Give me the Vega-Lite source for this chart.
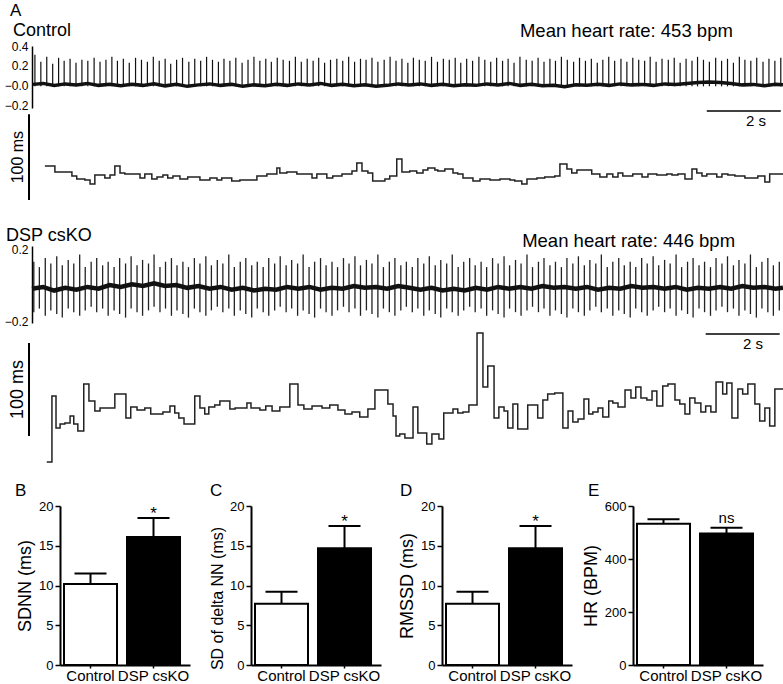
{
  "$schema": "https://vega.github.io/schema/vega-lite/v6.json",
  "padding": {"left": 4, "top": 1, "right": 0, "bottom": 0},
  "autosize": {"type": "pad"},
  "config": {
    "font": "Liberation Sans",
    "view": {"stroke": null},
    "axis": {"grid": false, "domainColor": "#000", "tickColor": "#000", "labelColor": "#000", "titleColor": "#000", "titleFontWeight": "normal", "labelOverlap": false, "labelFlush": false},
    "text": {"color": "#000"}
  },
  "datasets": {
    "ecgControl": [
      {"t":-0.27,"peak":0.31},{"t":-0.11,"peak":0.24},{"t":0.05,"peak":0.29},{"t":0.21,"peak":0.22},{"t":0.37,"peak":0.28},{"t":0.52,"peak":0.25},{"t":0.68,"peak":0.27},{"t":0.84,"peak":0.23},{"t":1.00,"peak":0.26},{"t":1.16,"peak":0.25},
      {"t":1.33,"peak":0.28},{"t":1.49,"peak":0.24},{"t":1.65,"peak":0.26},{"t":1.81,"peak":0.29},{"t":1.96,"peak":0.25},{"t":2.12,"peak":0.27},{"t":2.28,"peak":0.23},{"t":2.45,"peak":0.28},{"t":2.61,"peak":0.26},{"t":2.77,"peak":0.24},
      {"t":2.93,"peak":0.29},{"t":3.09,"peak":0.25},{"t":3.25,"peak":0.27},{"t":3.40,"peak":0.22},{"t":3.56,"peak":0.26},{"t":3.72,"peak":0.28},{"t":3.89,"peak":0.24},{"t":4.05,"peak":0.27},{"t":4.21,"peak":0.25},{"t":4.37,"peak":0.29},
      {"t":4.53,"peak":0.26},{"t":4.69,"peak":0.24},{"t":4.84,"peak":0.27},{"t":5.00,"peak":0.25},{"t":5.16,"peak":0.28},{"t":5.33,"peak":0.23},{"t":5.49,"peak":0.26},{"t":5.65,"peak":0.29},{"t":5.81,"peak":0.25},{"t":5.97,"peak":0.27},
      {"t":6.12,"peak":0.24},{"t":6.28,"peak":0.28},{"t":6.44,"peak":0.26},{"t":6.61,"peak":0.25},{"t":6.77,"peak":0.29},{"t":6.93,"peak":0.24},{"t":7.09,"peak":0.27},{"t":7.25,"peak":0.25},{"t":7.40,"peak":0.28},{"t":7.56,"peak":0.23},
      {"t":7.72,"peak":0.26},{"t":7.89,"peak":0.27},{"t":8.05,"peak":0.25},{"t":8.21,"peak":0.29},{"t":8.37,"peak":0.24},{"t":8.53,"peak":0.27},{"t":8.68,"peak":0.26},{"t":8.84,"peak":0.28},{"t":9.00,"peak":0.24},{"t":9.17,"peak":0.26},
      {"t":9.33,"peak":0.29},{"t":9.49,"peak":0.25},{"t":9.65,"peak":0.27},{"t":9.81,"peak":0.23},{"t":9.96,"peak":0.28},{"t":10.12,"peak":0.26},{"t":10.28,"peak":0.25},{"t":10.45,"peak":0.29},{"t":10.61,"peak":0.24},{"t":10.77,"peak":0.27},
      {"t":10.93,"peak":0.26},{"t":11.09,"peak":0.28},{"t":11.24,"peak":0.23},{"t":11.40,"peak":0.27},{"t":11.56,"peak":0.25},{"t":11.73,"peak":0.29},{"t":11.89,"peak":0.26},{"t":12.05,"peak":0.24},{"t":12.21,"peak":0.28},{"t":12.37,"peak":0.25},
      {"t":12.52,"peak":0.27},{"t":12.68,"peak":0.23},{"t":12.84,"peak":0.29},{"t":13.01,"peak":0.26},{"t":13.17,"peak":0.25},{"t":13.33,"peak":0.28},{"t":13.49,"peak":0.24},{"t":13.65,"peak":0.27},{"t":13.80,"peak":0.25},{"t":13.96,"peak":0.29},
      {"t":14.12,"peak":0.26},{"t":14.29,"peak":0.24},{"t":14.45,"peak":0.28},{"t":14.61,"peak":0.25},{"t":14.77,"peak":0.27},{"t":14.93,"peak":0.23},{"t":15.08,"peak":0.26},{"t":15.24,"peak":0.29},{"t":15.40,"peak":0.25},{"t":15.57,"peak":0.27},
      {"t":15.73,"peak":0.24},{"t":15.89,"peak":0.28},{"t":16.05,"peak":0.26},{"t":16.21,"peak":0.25},{"t":16.36,"peak":0.29},{"t":16.52,"peak":0.24},{"t":16.68,"peak":0.27},{"t":16.85,"peak":0.26},{"t":17.01,"peak":0.28},{"t":17.17,"peak":0.23},
      {"t":17.33,"peak":0.27},{"t":17.49,"peak":0.25},{"t":17.64,"peak":0.29},{"t":17.80,"peak":0.26},{"t":17.96,"peak":0.24},{"t":18.13,"peak":0.28},{"t":18.29,"peak":0.25},{"t":18.45,"peak":0.27},{"t":18.61,"peak":0.23},{"t":18.77,"peak":0.29},
      {"t":18.92,"peak":0.26},{"t":19.08,"peak":0.25},{"t":19.24,"peak":0.28},{"t":19.41,"peak":0.24},{"t":19.57,"peak":0.27},{"t":19.73,"peak":0.25},{"t":19.89,"peak":0.28}
    ],
    "ecgControlBaseline": [
      {"t":-0.33,"mV":0.01},{"t":-0.05,"mV":0.02},{"t":0.25,"mV":0.0},{"t":0.55,"mV":0.015},{"t":0.85,"mV":0.005},{"t":1.15,"mV":0.02},{"t":1.45,"mV":0.0},{"t":1.75,"mV":0.01},{"t":2.05,"mV":-0.005},{"t":2.35,"mV":0.01},
      {"t":2.65,"mV":0.0},{"t":2.95,"mV":0.015},{"t":3.25,"mV":-0.005},{"t":3.55,"mV":0.01},{"t":3.85,"mV":-0.01},{"t":4.15,"mV":0.005},{"t":4.45,"mV":0.015},{"t":4.75,"mV":0.0},{"t":5.05,"mV":0.01},{"t":5.35,"mV":-0.01},
      {"t":5.65,"mV":0.005},{"t":5.95,"mV":-0.005},{"t":6.25,"mV":0.01},{"t":6.55,"mV":0.0},{"t":6.85,"mV":0.015},{"t":7.15,"mV":0.005},{"t":7.45,"mV":0.02},{"t":7.75,"mV":0.0},{"t":8.05,"mV":0.01},{"t":8.35,"mV":-0.005},
      {"t":8.65,"mV":0.005},{"t":8.95,"mV":-0.01},{"t":9.25,"mV":0.0},{"t":9.55,"mV":0.015},{"t":9.85,"mV":0.005},{"t":10.15,"mV":0.015},{"t":10.45,"mV":0.0},{"t":10.75,"mV":0.01},{"t":11.05,"mV":-0.005},{"t":11.35,"mV":0.005},
      {"t":11.65,"mV":0.0},{"t":11.95,"mV":0.015},{"t":12.25,"mV":0.005},{"t":12.55,"mV":0.02},{"t":12.85,"mV":0.0},{"t":13.15,"mV":0.01},{"t":13.45,"mV":-0.005},{"t":13.75,"mV":0.0},{"t":14.05,"mV":-0.015},{"t":14.35,"mV":0.005},
      {"t":14.65,"mV":0.0},{"t":14.95,"mV":0.01},{"t":15.25,"mV":0.0},{"t":15.55,"mV":0.015},{"t":15.85,"mV":0.005},{"t":16.15,"mV":0.01},{"t":16.45,"mV":0.0},{"t":16.75,"mV":0.015},{"t":17.05,"mV":0.01},{"t":17.35,"mV":0.02},
      {"t":17.65,"mV":0.03},{"t":17.95,"mV":0.035},{"t":18.25,"mV":0.03},{"t":18.55,"mV":0.02},{"t":18.85,"mV":0.005},{"t":19.15,"mV":0.01},{"t":19.45,"mV":-0.005},{"t":19.75,"mV":0.01},{"t":19.95,"mV":0.005}
    ],
    "rrControl": [
      {"t":0.00,"rr":139.7},{"t":0.27,"rr":132.7},{"t":0.73,"rr":128.0},{"t":0.86,"rr":124.5},{"t":1.08,"rr":123.3},{"t":1.22,"rr":118.7},{"t":1.35,"rr":129.2},{"t":1.62,"rr":125.7},{"t":1.76,"rr":129.2},{"t":1.89,"rr":139.7},
      {"t":2.03,"rr":131.5},{"t":2.16,"rr":130.3},{"t":2.57,"rr":125.7},{"t":2.70,"rr":130.3},{"t":2.89,"rr":124.5},{"t":3.03,"rr":126.8},{"t":3.19,"rr":129.2},{"t":3.32,"rr":125.7},{"t":3.46,"rr":128.0},{"t":3.65,"rr":124.5},
      {"t":3.86,"rr":126.8},{"t":4.19,"rr":123.3},{"t":4.46,"rr":125.7},{"t":4.65,"rr":123.3},{"t":4.78,"rr":125.7},{"t":5.05,"rr":122.2},{"t":5.27,"rr":123.3},{"t":5.73,"rr":128.0},{"t":6.00,"rr":130.3},{"t":6.27,"rr":137.3},
      {"t":6.35,"rr":131.5},{"t":6.54,"rr":132.7},{"t":6.81,"rr":130.3},{"t":7.22,"rr":125.7},{"t":7.35,"rr":130.3},{"t":7.62,"rr":125.7},{"t":7.78,"rr":128.0},{"t":8.03,"rr":130.3},{"t":8.30,"rr":133.8},{"t":8.43,"rr":143.2},
      {"t":8.57,"rr":133.8},{"t":8.73,"rr":131.5},{"t":8.86,"rr":122.2},{"t":9.19,"rr":124.5},{"t":9.32,"rr":128.0},{"t":9.51,"rr":147.8},{"t":9.65,"rr":132.7},{"t":9.86,"rr":133.8},{"t":10.05,"rr":131.5},{"t":10.22,"rr":135.0},
      {"t":10.35,"rr":137.3},{"t":10.54,"rr":135.0},{"t":10.62,"rr":133.8},{"t":10.81,"rr":136.1},{"t":11.03,"rr":131.5},{"t":11.16,"rr":130.3},{"t":11.30,"rr":125.7},{"t":11.57,"rr":122.2},{"t":11.76,"rr":124.5},{"t":12.03,"rr":123.3},
      {"t":12.30,"rr":124.5},{"t":12.57,"rr":123.3},{"t":12.70,"rr":122.2},{"t":12.89,"rr":118.7},{"t":13.03,"rr":124.5},{"t":13.30,"rr":125.7},{"t":13.51,"rr":126.8},{"t":13.78,"rr":128.0},{"t":13.92,"rr":142.0},{"t":14.11,"rr":136.2},
      {"t":14.24,"rr":131.5},{"t":14.38,"rr":135.0},{"t":14.78,"rr":130.3},{"t":15.00,"rr":126.8},{"t":15.19,"rr":130.3},{"t":15.35,"rr":126.8},{"t":15.49,"rr":131.5},{"t":15.62,"rr":128.0},{"t":15.89,"rr":130.3},{"t":16.14,"rr":126.8},
      {"t":16.30,"rr":130.3},{"t":16.54,"rr":129.2},{"t":16.81,"rr":130.3},{"t":16.95,"rr":129.2},{"t":17.11,"rr":130.3},{"t":17.30,"rr":124.5},{"t":17.49,"rr":136.2},{"t":17.62,"rr":131.5},{"t":17.76,"rr":128.0},{"t":17.89,"rr":130.3},
      {"t":18.16,"rr":126.8},{"t":18.30,"rr":130.3},{"t":18.46,"rr":129.2},{"t":18.65,"rr":128.0},{"t":18.92,"rr":125.7},{"t":19.27,"rr":128.0},{"t":19.46,"rr":121.0},{"t":19.59,"rr":130.3},{"t":19.95,"rr":130.3}
    ],
    "ecgDsp": [
      {"t":-0.30,"peak":0.13,"trough":-0.15},{"t":-0.15,"peak":0.10,"trough":-0.13},{"t":0.01,"peak":0.15,"trough":-0.17},{"t":0.16,"peak":0.12,"trough":-0.14},{"t":0.32,"peak":0.16,"trough":-0.16},{"t":0.47,"peak":0.11,"trough":-0.18},{"t":0.63,"peak":0.14,"trough":-0.13},{"t":0.78,"peak":0.12,"trough":-0.15},{"t":0.94,"peak":0.17,"trough":-0.17},{"t":1.09,"peak":0.10,"trough":-0.14},
      {"t":1.25,"peak":0.13,"trough":-0.12},{"t":1.40,"peak":0.15,"trough":-0.15},{"t":1.56,"peak":0.11,"trough":-0.13},{"t":1.71,"peak":0.13,"trough":-0.17},{"t":1.87,"peak":0.10,"trough":-0.14},{"t":2.02,"peak":0.15,"trough":-0.16},{"t":2.18,"peak":0.12,"trough":-0.18},{"t":2.33,"peak":0.16,"trough":-0.13},{"t":2.49,"peak":0.11,"trough":-0.15},{"t":2.64,"peak":0.14,"trough":-0.17},
      {"t":2.80,"peak":0.12,"trough":-0.14},{"t":2.95,"peak":0.17,"trough":-0.12},{"t":3.11,"peak":0.10,"trough":-0.15},{"t":3.26,"peak":0.13,"trough":-0.13},{"t":3.42,"peak":0.15,"trough":-0.17},{"t":3.57,"peak":0.11,"trough":-0.14},{"t":3.73,"peak":0.13,"trough":-0.16},{"t":3.88,"peak":0.10,"trough":-0.18},{"t":4.04,"peak":0.15,"trough":-0.13},{"t":4.19,"peak":0.12,"trough":-0.15},
      {"t":4.35,"peak":0.16,"trough":-0.17},{"t":4.50,"peak":0.11,"trough":-0.14},{"t":4.66,"peak":0.14,"trough":-0.12},{"t":4.81,"peak":0.12,"trough":-0.15},{"t":4.97,"peak":0.17,"trough":-0.13},{"t":5.12,"peak":0.10,"trough":-0.17},{"t":5.28,"peak":0.13,"trough":-0.14},{"t":5.43,"peak":0.15,"trough":-0.16},{"t":5.59,"peak":0.11,"trough":-0.18},{"t":5.74,"peak":0.13,"trough":-0.13},
      {"t":5.90,"peak":0.10,"trough":-0.15},{"t":6.05,"peak":0.15,"trough":-0.17},{"t":6.21,"peak":0.12,"trough":-0.14},{"t":6.36,"peak":0.16,"trough":-0.12},{"t":6.52,"peak":0.11,"trough":-0.15},{"t":6.67,"peak":0.14,"trough":-0.13},{"t":6.83,"peak":0.12,"trough":-0.17},{"t":6.98,"peak":0.17,"trough":-0.14},{"t":7.14,"peak":0.10,"trough":-0.16},{"t":7.29,"peak":0.13,"trough":-0.18},
      {"t":7.45,"peak":0.15,"trough":-0.13},{"t":7.60,"peak":0.11,"trough":-0.15},{"t":7.76,"peak":0.13,"trough":-0.17},{"t":7.91,"peak":0.10,"trough":-0.14},{"t":8.07,"peak":0.15,"trough":-0.12},{"t":8.22,"peak":0.12,"trough":-0.15},{"t":8.38,"peak":0.16,"trough":-0.13},{"t":8.53,"peak":0.11,"trough":-0.17},{"t":8.69,"peak":0.14,"trough":-0.14},{"t":8.84,"peak":0.12,"trough":-0.16},
      {"t":9.00,"peak":0.17,"trough":-0.18},{"t":9.15,"peak":0.10,"trough":-0.13},{"t":9.31,"peak":0.13,"trough":-0.15},{"t":9.46,"peak":0.15,"trough":-0.17},{"t":9.62,"peak":0.11,"trough":-0.14},{"t":9.77,"peak":0.13,"trough":-0.12},{"t":9.93,"peak":0.10,"trough":-0.15},{"t":10.08,"peak":0.15,"trough":-0.13},{"t":10.24,"peak":0.12,"trough":-0.17},{"t":10.39,"peak":0.16,"trough":-0.14},
      {"t":10.55,"peak":0.11,"trough":-0.16},{"t":10.70,"peak":0.14,"trough":-0.18},{"t":10.86,"peak":0.12,"trough":-0.13},{"t":11.01,"peak":0.17,"trough":-0.15},{"t":11.17,"peak":0.10,"trough":-0.17},{"t":11.32,"peak":0.13,"trough":-0.14},{"t":11.48,"peak":0.15,"trough":-0.12},{"t":11.63,"peak":0.11,"trough":-0.15},{"t":11.79,"peak":0.13,"trough":-0.13},{"t":11.94,"peak":0.10,"trough":-0.17},
      {"t":12.10,"peak":0.15,"trough":-0.14},{"t":12.25,"peak":0.12,"trough":-0.16},{"t":12.41,"peak":0.16,"trough":-0.18},{"t":12.56,"peak":0.11,"trough":-0.13},{"t":12.72,"peak":0.14,"trough":-0.15},{"t":12.87,"peak":0.12,"trough":-0.17},{"t":13.03,"peak":0.17,"trough":-0.14},{"t":13.18,"peak":0.10,"trough":-0.12},{"t":13.34,"peak":0.13,"trough":-0.15},{"t":13.49,"peak":0.15,"trough":-0.13},
      {"t":13.65,"peak":0.11,"trough":-0.17},{"t":13.80,"peak":0.13,"trough":-0.14},{"t":13.96,"peak":0.10,"trough":-0.16},{"t":14.11,"peak":0.15,"trough":-0.18},{"t":14.27,"peak":0.12,"trough":-0.13},{"t":14.42,"peak":0.16,"trough":-0.15},{"t":14.58,"peak":0.11,"trough":-0.17},{"t":14.73,"peak":0.14,"trough":-0.14},{"t":14.89,"peak":0.12,"trough":-0.12},{"t":15.04,"peak":0.17,"trough":-0.15},
      {"t":15.20,"peak":0.10,"trough":-0.13},{"t":15.35,"peak":0.13,"trough":-0.17},{"t":15.51,"peak":0.15,"trough":-0.14},{"t":15.66,"peak":0.11,"trough":-0.16},{"t":15.82,"peak":0.13,"trough":-0.18},{"t":15.97,"peak":0.10,"trough":-0.13},{"t":16.13,"peak":0.15,"trough":-0.15},{"t":16.28,"peak":0.12,"trough":-0.17},{"t":16.44,"peak":0.16,"trough":-0.14},{"t":16.59,"peak":0.11,"trough":-0.12},
      {"t":16.75,"peak":0.14,"trough":-0.15},{"t":16.90,"peak":0.12,"trough":-0.13},{"t":17.06,"peak":0.17,"trough":-0.17},{"t":17.21,"peak":0.10,"trough":-0.14},{"t":17.37,"peak":0.13,"trough":-0.16},{"t":17.52,"peak":0.15,"trough":-0.18},{"t":17.68,"peak":0.11,"trough":-0.13},{"t":17.83,"peak":0.13,"trough":-0.15},{"t":17.99,"peak":0.10,"trough":-0.17},{"t":18.14,"peak":0.15,"trough":-0.14},
      {"t":18.30,"peak":0.12,"trough":-0.12},{"t":18.45,"peak":0.16,"trough":-0.15},{"t":18.61,"peak":0.11,"trough":-0.13},{"t":18.76,"peak":0.14,"trough":-0.17},{"t":18.92,"peak":0.12,"trough":-0.14},{"t":19.07,"peak":0.17,"trough":-0.16},{"t":19.23,"peak":0.10,"trough":-0.18},{"t":19.38,"peak":0.13,"trough":-0.13},{"t":19.54,"peak":0.15,"trough":-0.15},{"t":19.69,"peak":0.11,"trough":-0.17},
      {"t":19.85,"peak":0.13,"trough":-0.14}
    ],
    "ecgDspBaseline": [
      {"t":-0.35,"mV":-0.02},{"t":-0.05,"mV":-0.01},{"t":0.25,"mV":-0.03},{"t":0.55,"mV":-0.015},{"t":0.85,"mV":-0.025},{"t":1.15,"mV":-0.01},{"t":1.45,"mV":-0.02},{"t":1.75,"mV":0.0},{"t":2.05,"mV":-0.01},{"t":2.35,"mV":0.005},
      {"t":2.65,"mV":-0.005},{"t":2.95,"mV":0.01},{"t":3.25,"mV":-0.005},{"t":3.55,"mV":0.0},{"t":3.85,"mV":-0.015},{"t":4.15,"mV":-0.005},{"t":4.45,"mV":-0.02},{"t":4.75,"mV":-0.01},{"t":5.05,"mV":-0.025},{"t":5.35,"mV":-0.015},
      {"t":5.65,"mV":-0.03},{"t":5.95,"mV":-0.02},{"t":6.25,"mV":-0.025},{"t":6.55,"mV":-0.01},{"t":6.85,"mV":-0.02},{"t":7.15,"mV":-0.01},{"t":7.45,"mV":-0.025},{"t":7.75,"mV":-0.015},{"t":8.05,"mV":-0.02},{"t":8.35,"mV":-0.005},
      {"t":8.65,"mV":-0.015},{"t":8.95,"mV":-0.01},{"t":9.25,"mV":-0.02},{"t":9.55,"mV":-0.005},{"t":9.85,"mV":-0.015},{"t":10.15,"mV":-0.025},{"t":10.45,"mV":-0.015},{"t":10.75,"mV":-0.03},{"t":11.05,"mV":-0.02},{"t":11.35,"mV":-0.03},
      {"t":11.65,"mV":-0.015},{"t":11.95,"mV":-0.025},{"t":12.25,"mV":-0.01},{"t":12.55,"mV":-0.02},{"t":12.85,"mV":-0.01},{"t":13.15,"mV":-0.02},{"t":13.45,"mV":-0.005},{"t":13.75,"mV":-0.015},{"t":14.05,"mV":-0.01},{"t":14.35,"mV":-0.02},
      {"t":14.65,"mV":-0.01},{"t":14.95,"mV":-0.025},{"t":15.25,"mV":-0.015},{"t":15.55,"mV":-0.02},{"t":15.85,"mV":-0.005},{"t":16.15,"mV":-0.015},{"t":16.45,"mV":-0.01},{"t":16.75,"mV":-0.02},{"t":17.05,"mV":-0.01},{"t":17.35,"mV":-0.025},
      {"t":17.65,"mV":-0.015},{"t":17.95,"mV":-0.02},{"t":18.25,"mV":-0.01},{"t":18.55,"mV":-0.02},{"t":18.85,"mV":-0.005},{"t":19.15,"mV":-0.015},{"t":19.45,"mV":-0.01},{"t":19.75,"mV":-0.02},{"t":19.95,"mV":-0.015}
    ],
    "rrDsp": [
      {"t":0.05,"rr":72.1},{"t":0.19,"rr":143.0},{"t":0.30,"rr":108.7},{"t":0.41,"rr":113.0},{"t":0.54,"rr":114.0},{"t":0.68,"rr":121.6},{"t":0.78,"rr":113.0},{"t":0.89,"rr":105.4},{"t":1.05,"rr":155.9},{"t":1.19,"rr":137.7},
      {"t":1.35,"rr":126.9},{"t":1.49,"rr":130.1},{"t":1.89,"rr":145.2},{"t":2.19,"rr":119.4},{"t":2.32,"rr":131.2},{"t":2.49,"rr":128.0},{"t":2.70,"rr":130.1},{"t":2.86,"rr":123.7},{"t":3.19,"rr":125.8},{"t":3.38,"rr":132.3},
      {"t":3.51,"rr":124.8},{"t":3.62,"rr":119.4},{"t":3.76,"rr":113.0},{"t":4.05,"rr":143.0},{"t":4.19,"rr":130.1},{"t":4.32,"rr":123.7},{"t":4.43,"rr":131.2},{"t":4.59,"rr":133.4},{"t":4.73,"rr":137.7},{"t":5.00,"rr":129.1},
      {"t":5.14,"rr":130.1},{"t":5.46,"rr":135.5},{"t":5.57,"rr":130.1},{"t":5.81,"rr":128.0},{"t":5.97,"rr":132.3},{"t":6.14,"rr":126.9},{"t":6.35,"rr":131.2},{"t":6.62,"rr":155.9},{"t":6.84,"rr":133.4},{"t":7.00,"rr":129.1},
      {"t":7.22,"rr":132.3},{"t":7.49,"rr":130.1},{"t":7.70,"rr":133.4},{"t":7.92,"rr":128.0},{"t":8.11,"rr":123.7},{"t":8.30,"rr":125.8},{"t":8.51,"rr":120.5},{"t":8.73,"rr":129.1},{"t":8.92,"rr":149.5},{"t":9.27,"rr":134.4},
      {"t":9.41,"rr":121.6},{"t":9.49,"rr":100.1},{"t":9.59,"rr":102.3},{"t":9.73,"rr":97.9},{"t":9.95,"rr":131.2},{"t":10.08,"rr":103.3},{"t":10.32,"rr":91.5},{"t":10.46,"rr":102.3},{"t":10.65,"rr":96.8},{"t":10.78,"rr":124.8},
      {"t":11.03,"rr":129.1},{"t":11.16,"rr":124.8},{"t":11.30,"rr":125.8},{"t":11.46,"rr":133.4},{"t":11.68,"rr":210.7},{"t":11.84,"rr":152.7},{"t":11.97,"rr":175.3},{"t":12.14,"rr":119.4},{"t":12.27,"rr":131.2},{"t":12.41,"rr":126.9},
      {"t":12.51,"rr":108.7},{"t":12.65,"rr":134.4},{"t":12.78,"rr":107.6},{"t":13.05,"rr":133.4},{"t":13.32,"rr":119.4},{"t":13.46,"rr":138.7},{"t":13.59,"rr":145.2},{"t":13.78,"rr":146.3},{"t":14.00,"rr":108.7},{"t":14.14,"rr":126.9},
      {"t":14.27,"rr":115.1},{"t":14.41,"rr":118.3},{"t":14.57,"rr":139.8},{"t":14.70,"rr":123.7},{"t":14.81,"rr":125.8},{"t":14.95,"rr":130.1},{"t":15.08,"rr":120.5},{"t":15.24,"rr":137.7},{"t":15.35,"rr":135.5},{"t":15.49,"rr":131.2},
      {"t":15.68,"rr":149.5},{"t":15.84,"rr":140.9},{"t":15.97,"rr":152.7},{"t":16.11,"rr":140.9},{"t":16.27,"rr":138.7},{"t":16.41,"rr":148.4},{"t":16.54,"rr":132.3},{"t":16.70,"rr":153.8},{"t":16.84,"rr":155.9},{"t":17.03,"rr":138.7},
      {"t":17.16,"rr":134.4},{"t":17.30,"rr":123.7},{"t":17.43,"rr":140.9},{"t":17.57,"rr":135.5},{"t":17.73,"rr":125.8},{"t":17.86,"rr":132.3},{"t":18.00,"rr":125.8},{"t":18.14,"rr":158.0},{"t":18.32,"rr":145.2},{"t":18.43,"rr":157.0},
      {"t":18.57,"rr":119.4},{"t":18.73,"rr":150.5},{"t":18.86,"rr":145.2},{"t":19.00,"rr":155.9},{"t":19.19,"rr":134.4},{"t":19.32,"rr":116.2},{"t":19.46,"rr":130.1},{"t":19.59,"rr":110.8},{"t":19.73,"rr":150.5},{"t":19.95,"rr":150.5}
    ],
    "hrv": [
      {"metric":"SDNN","group":"Control","mean":10.2,"upper":11.5,"sig":""},
      {"metric":"SDNN","group":"DSP csKO","mean":16.1,"upper":18.5,"sig":"*"},
      {"metric":"SDdNN","group":"Control","mean":7.7,"upper":9.2,"sig":""},
      {"metric":"SDdNN","group":"DSP csKO","mean":14.7,"upper":17.5,"sig":"*"},
      {"metric":"RMSSD","group":"Control","mean":7.7,"upper":9.2,"sig":""},
      {"metric":"RMSSD","group":"DSP csKO","mean":14.7,"upper":17.5,"sig":"*"},
      {"metric":"HR","group":"Control","mean":533,"upper":550,"sig":""},
      {"metric":"HR","group":"DSP csKO","mean":496,"upper":518,"sig":"ns"}
    ]
  },
  "vconcat": [
    {
      "width": 754, "height": 62,
      "layer": [
        {"data": {"name": "ecgControl"}, "mark": {"type": "rule", "color": "#111", "strokeWidth": 1.2},
         "encoding": {"x": {"field": "t", "type": "quantitative", "scale": {"domain": [-0.43, 19.95], "nice": false, "zero": false}, "axis": null},
                      "y": {"field": "peak", "type": "quantitative", "scale": {"domain": [-0.23, 0.4], "nice": false, "zero": false},
                            "axis": {"values": [-0.2, 0, 0.2, 0.4], "labelExpr": "datum.value == 0 ? '−0.0' : format(datum.value, '.1f')", "offset": -3, "ticks": false, "labelPadding": 4, "labelFontSize": 12, "domainWidth": 1.5, "title": null}},
                      "y2": {"datum": -0.01}}},
        {"data": {"name": "ecgControlBaseline"}, "mark": {"type": "line", "color": "#111", "strokeWidth": 3.5},
         "encoding": {"x": {"field": "t", "type": "quantitative", "axis": null},
                      "y": {"field": "mV", "type": "quantitative", "axis": {"values": [-0.2, 0, 0.2, 0.4], "labelExpr": "datum.value == 0 ? '−0.0' : format(datum.value, '.1f')", "offset": -3, "ticks": false, "labelPadding": 4, "labelFontSize": 12, "domainWidth": 1.5, "title": null}}}},
        {"data": {"values": [{}]}, "mark": {"type": "text", "text": "A", "fontSize": 17, "align": "left", "baseline": "alphabetic"},
         "encoding": {"x": {"datum": -0.944, "axis": null},
                      "y": {"datum": 0.705, "axis": {"values": [-0.2, 0, 0.2, 0.4], "labelExpr": "datum.value == 0 ? '−0.0' : format(datum.value, '.1f')", "offset": -3, "ticks": false, "labelPadding": 4, "labelFontSize": 12, "domainWidth": 1.5, "title": null}}}},
        {"data": {"values": [{}]}, "mark": {"type": "text", "text": "Control", "fontSize": 18, "align": "left", "baseline": "alphabetic"},
         "encoding": {"x": {"datum": -0.862, "axis": null},
                      "y": {"datum": 0.5, "axis": {"values": [-0.2, 0, 0.2, 0.4], "labelExpr": "datum.value == 0 ? '−0.0' : format(datum.value, '.1f')", "offset": -3, "ticks": false, "labelPadding": 4, "labelFontSize": 12, "domainWidth": 1.5, "title": null}}}},
        {"data": {"values": [{}]}, "mark": {"type": "text", "text": "Mean heart rate: 453 bpm", "fontSize": 18.5, "align": "left", "baseline": "alphabetic"},
         "encoding": {"x": {"datum": 12.84, "axis": null},
                      "y": {"datum": 0.49, "axis": {"values": [-0.2, 0, 0.2, 0.4], "labelExpr": "datum.value == 0 ? '−0.0' : format(datum.value, '.1f')", "offset": -3, "ticks": false, "labelPadding": 4, "labelFontSize": 12, "domainWidth": 1.5, "title": null}}}}
      ]
    },
    {
      "width": 754, "height": 134,
      "layer": [
        {"data": {"name": "rrControl"}, "mark": {"type": "line", "interpolate": "step-after", "color": "#222", "strokeWidth": 1.5},
         "encoding": {"x": {"field": "t", "type": "quantitative", "scale": {"domain": [-0.43, 19.95], "nice": false, "zero": false}, "axis": null},
                      "y": {"field": "rr", "type": "quantitative", "scale": {"domain": [48.6, 205], "nice": false, "zero": false}, "axis": null}}},
        {"data": {"values": [{}]}, "mark": {"type": "rule", "color": "#000", "strokeWidth": 2},
         "encoding": {"x": {"datum": -0.43, "axis": null}, "y": {"datum": 100, "axis": null}, "y2": {"datum": 200}}},
        {"data": {"values": [{}]}, "mark": {"type": "text", "text": "100 ms", "angle": 270, "fontSize": 16, "align": "center", "baseline": "middle"},
         "encoding": {"x": {"datum": -0.727, "axis": null}, "y": {"datum": 150, "axis": null}}},
        {"data": {"values": [{}]}, "mark": {"type": "rule", "color": "#000", "strokeWidth": 1.5},
         "encoding": {"x": {"datum": 17.89, "axis": null}, "x2": {"datum": 19.89}, "y": {"datum": 203.8, "axis": null}}},
        {"data": {"values": [{}]}, "mark": {"type": "text", "text": "2 s", "fontSize": 15, "align": "center", "baseline": "middle"},
         "encoding": {"x": {"datum": 19.22, "axis": null}, "y": {"datum": 192.2, "axis": null}}}
      ]
    },
    {
      "width": 754, "height": 77,
      "layer": [
        {"data": {"name": "ecgDsp"}, "mark": {"type": "rule", "color": "#222", "strokeWidth": 1.3},
         "encoding": {"x": {"field": "t", "type": "quantitative", "scale": {"domain": [-0.43, 19.95], "nice": false, "zero": false}, "axis": null},
                      "y": {"field": "peak", "type": "quantitative", "scale": {"domain": [-0.21, 0.217], "nice": false, "zero": false},
                            "axis": {"values": [-0.2, 0.2], "labelExpr": "format(datum.value, '.1f')", "offset": -3, "ticks": false, "labelPadding": 4, "labelFontSize": 12, "domainWidth": 1.5, "title": null}},
                      "y2": {"field": "trough"}}},
        {"data": {"name": "ecgDspBaseline"}, "mark": {"type": "line", "color": "#111", "strokeWidth": 4.5},
         "encoding": {"x": {"field": "t", "type": "quantitative", "axis": null},
                      "y": {"field": "mV", "type": "quantitative", "axis": {"values": [-0.2, 0.2], "labelExpr": "format(datum.value, '.1f')", "offset": -3, "ticks": false, "labelPadding": 4, "labelFontSize": 12, "domainWidth": 1.5, "title": null}}}},
        {"data": {"values": [{}]}, "mark": {"type": "text", "text": "DSP csKO", "fontSize": 18, "align": "left", "baseline": "alphabetic"},
         "encoding": {"x": {"datum": -1.052, "axis": null},
                      "y": {"datum": 0.245, "axis": {"values": [-0.2, 0.2], "labelExpr": "format(datum.value, '.1f')", "offset": -3, "ticks": false, "labelPadding": 4, "labelFontSize": 12, "domainWidth": 1.5, "title": null}}}},
        {"data": {"values": [{}]}, "mark": {"type": "text", "text": "Mean heart rate: 446 bpm", "fontSize": 18.5, "align": "left", "baseline": "alphabetic"},
         "encoding": {"x": {"datum": 12.9, "axis": null},
                      "y": {"datum": 0.212, "axis": {"values": [-0.2, 0.2], "labelExpr": "format(datum.value, '.1f')", "offset": -3, "ticks": false, "labelPadding": 4, "labelFontSize": 12, "domainWidth": 1.5, "title": null}}}}
      ]
    },
    {
      "width": 754, "height": 179,
      "layer": [
        {"data": {"name": "rrDsp"}, "mark": {"type": "line", "interpolate": "step-after", "color": "#222", "strokeWidth": 1.5},
         "encoding": {"x": {"field": "t", "type": "quantitative", "scale": {"domain": [-0.43, 19.95], "nice": false, "zero": false}, "axis": null},
                      "y": {"field": "rr", "type": "quantitative", "scale": {"domain": [27.0, 219.3], "nice": false, "zero": false}, "axis": null}}},
        {"data": {"values": [{}]}, "mark": {"type": "rule", "color": "#000", "strokeWidth": 2},
         "encoding": {"x": {"datum": -0.43, "axis": null}, "y": {"datum": 100, "axis": null}, "y2": {"datum": 200}}},
        {"data": {"values": [{}]}, "mark": {"type": "text", "text": "100 ms", "angle": 270, "fontSize": 18, "align": "center", "baseline": "middle"},
         "encoding": {"x": {"datum": -0.727, "axis": null}, "y": {"datum": 150, "axis": null}}},
        {"data": {"values": [{}]}, "mark": {"type": "rule", "color": "#000", "strokeWidth": 1.5},
         "encoding": {"x": {"datum": 17.86, "axis": null}, "x2": {"datum": 19.86}, "y": {"datum": 209.6, "axis": null}}},
        {"data": {"values": [{}]}, "mark": {"type": "text", "text": "2 s", "fontSize": 15, "align": "center", "baseline": "middle"},
         "encoding": {"x": {"datum": 19.14, "axis": null}, "y": {"datum": 198.9, "axis": null}}}
      ]
    },
    {
      "hconcat": [
        {"width": 1, "height": 1, "data": {"values": []}, "mark": "point"},
        {
          "hconcat": [
            {
              "width": 130, "height": 159,
              "data": {"name": "hrv"},
              "transform": [{"filter": "datum.metric == 'SDNN'"}],
              "title": {"text": "B", "anchor": "start", "frame": "group", "dx": -45, "offset": 0, "fontSize": 17, "fontWeight": "normal"},
              "encoding": {"x": {"field": "group", "type": "nominal", "sort": ["Control", "DSP csKO"], "scale": {"paddingInner": 0.1587, "paddingOuter": 0.111, "align": 0.286},
                                 "axis": {"title": null, "labelAngle": 0, "labelFontSize": 15, "tickSize": 3, "tickWidth": 1.5, "domainWidth": 2, "labelPadding": 0}}},
              "layer": [
                {"mark": {"type": "rule", "color": "#000", "strokeWidth": 2},
                 "encoding": {"y": {"field": "mean", "type": "quantitative", "scale": {"domain": [0, 20], "nice": false},
                                    "axis": {"values": [0, 5, 10, 15, 20], "title": "SDNN (ms)", "titleFontSize": 18, "titlePadding": 4, "labelFontSize": 13, "labelPadding": 2, "tickSize": 5, "tickWidth": 1.5, "domainWidth": 2}},
                              "y2": {"field": "upper"}}},
                {"mark": {"type": "tick", "orient": "horizontal", "size": 32, "thickness": 2, "color": "#000", "opacity": 1},
                 "encoding": {"y": {"field": "upper", "type": "quantitative", "axis": {"values": [0, 5, 10, 15, 20], "title": "SDNN (ms)", "titleFontSize": 18, "titlePadding": 4, "labelFontSize": 13, "labelPadding": 2, "tickSize": 5, "tickWidth": 1.5, "domainWidth": 2}}}},
                {"mark": {"type": "bar", "stroke": "#000", "strokeWidth": 2, "opacity": 1},
                 "encoding": {"y": {"field": "mean", "type": "quantitative", "stack": null, "axis": {"values": [0, 5, 10, 15, 20], "title": "SDNN (ms)", "titleFontSize": 18, "titlePadding": 4, "labelFontSize": 13, "labelPadding": 2, "tickSize": 5, "tickWidth": 1.5, "domainWidth": 2}},
                              "fill": {"field": "group", "type": "nominal", "scale": {"domain": ["Control", "DSP csKO"], "range": ["#ffffff", "#000000"]}, "legend": null}}},
                {"mark": {"type": "text", "fontSize": 17, "baseline": "alphabetic", "dy": 1},
                 "encoding": {"y": {"field": "upper", "type": "quantitative", "axis": {"values": [0, 5, 10, 15, 20], "title": "SDNN (ms)", "titleFontSize": 18, "titlePadding": 4, "labelFontSize": 13, "labelPadding": 2, "tickSize": 5, "tickWidth": 1.5, "domainWidth": 2}}, "text": {"field": "sig"}}}
              ]
            },
            {
              "width": 130, "height": 159,
              "data": {"name": "hrv"},
              "transform": [{"filter": "datum.metric == 'SDdNN'"}],
              "title": {"text": "C", "anchor": "start", "frame": "group", "dx": -41, "offset": 0, "fontSize": 17, "fontWeight": "normal"},
              "encoding": {"x": {"field": "group", "type": "nominal", "sort": ["Control", "DSP csKO"], "scale": {"paddingInner": 0.1587, "paddingOuter": 0.111, "align": 0.286},
                                 "axis": {"title": null, "labelAngle": 0, "labelFontSize": 15, "tickSize": 3, "tickWidth": 1.5, "domainWidth": 2, "labelPadding": 0}}},
              "layer": [
                {"mark": {"type": "rule", "color": "#000", "strokeWidth": 2},
                 "encoding": {"y": {"field": "mean", "type": "quantitative", "scale": {"domain": [0, 20], "nice": false},
                                    "axis": {"values": [0, 5, 10, 15, 20], "title": "SD of delta NN (ms)", "titleFontSize": 16, "titlePadding": 4, "titleY": 92, "labelFontSize": 13, "labelPadding": 2, "tickSize": 5, "tickWidth": 1.5, "domainWidth": 2}},
                              "y2": {"field": "upper"}}},
                {"mark": {"type": "tick", "orient": "horizontal", "size": 32, "thickness": 2, "color": "#000", "opacity": 1},
                 "encoding": {"y": {"field": "upper", "type": "quantitative", "axis": {"values": [0, 5, 10, 15, 20], "title": "SD of delta NN (ms)", "titleFontSize": 16, "titlePadding": 4, "titleY": 92, "labelFontSize": 13, "labelPadding": 2, "tickSize": 5, "tickWidth": 1.5, "domainWidth": 2}}}},
                {"mark": {"type": "bar", "stroke": "#000", "strokeWidth": 2, "opacity": 1},
                 "encoding": {"y": {"field": "mean", "type": "quantitative", "stack": null, "axis": {"values": [0, 5, 10, 15, 20], "title": "SD of delta NN (ms)", "titleFontSize": 16, "titlePadding": 4, "titleY": 92, "labelFontSize": 13, "labelPadding": 2, "tickSize": 5, "tickWidth": 1.5, "domainWidth": 2}},
                              "fill": {"field": "group", "type": "nominal", "scale": {"domain": ["Control", "DSP csKO"], "range": ["#ffffff", "#000000"]}, "legend": null}}},
                {"mark": {"type": "text", "fontSize": 17, "baseline": "alphabetic", "dy": 1},
                 "encoding": {"y": {"field": "upper", "type": "quantitative", "axis": {"values": [0, 5, 10, 15, 20], "title": "SD of delta NN (ms)", "titleFontSize": 16, "titlePadding": 4, "titleY": 92, "labelFontSize": 13, "labelPadding": 2, "tickSize": 5, "tickWidth": 1.5, "domainWidth": 2}}, "text": {"field": "sig"}}}
              ]
            },
            {
              "width": 130, "height": 159,
              "data": {"name": "hrv"},
              "transform": [{"filter": "datum.metric == 'RMSSD'"}],
              "title": {"text": "D", "anchor": "start", "frame": "group", "dx": -42, "offset": 0, "fontSize": 17, "fontWeight": "normal"},
              "encoding": {"x": {"field": "group", "type": "nominal", "sort": ["Control", "DSP csKO"], "scale": {"paddingInner": 0.1587, "paddingOuter": 0.111, "align": 0.286},
                                 "axis": {"title": null, "labelAngle": 0, "labelFontSize": 15, "tickSize": 3, "tickWidth": 1.5, "domainWidth": 2, "labelPadding": 0}}},
              "layer": [
                {"mark": {"type": "rule", "color": "#000", "strokeWidth": 2},
                 "encoding": {"y": {"field": "mean", "type": "quantitative", "scale": {"domain": [0, 20], "nice": false},
                                    "axis": {"values": [0, 5, 10, 15, 20], "title": "RMSSD (ms)", "titleFontSize": 18, "titlePadding": 4, "labelFontSize": 13, "labelPadding": 2, "tickSize": 5, "tickWidth": 1.5, "domainWidth": 2}},
                              "y2": {"field": "upper"}}},
                {"mark": {"type": "tick", "orient": "horizontal", "size": 32, "thickness": 2, "color": "#000", "opacity": 1},
                 "encoding": {"y": {"field": "upper", "type": "quantitative", "axis": {"values": [0, 5, 10, 15, 20], "title": "RMSSD (ms)", "titleFontSize": 18, "titlePadding": 4, "labelFontSize": 13, "labelPadding": 2, "tickSize": 5, "tickWidth": 1.5, "domainWidth": 2}}}},
                {"mark": {"type": "bar", "stroke": "#000", "strokeWidth": 2, "opacity": 1},
                 "encoding": {"y": {"field": "mean", "type": "quantitative", "stack": null, "axis": {"values": [0, 5, 10, 15, 20], "title": "RMSSD (ms)", "titleFontSize": 18, "titlePadding": 4, "labelFontSize": 13, "labelPadding": 2, "tickSize": 5, "tickWidth": 1.5, "domainWidth": 2}},
                              "fill": {"field": "group", "type": "nominal", "scale": {"domain": ["Control", "DSP csKO"], "range": ["#ffffff", "#000000"]}, "legend": null}}},
                {"mark": {"type": "text", "fontSize": 17, "baseline": "alphabetic", "dy": 1},
                 "encoding": {"y": {"field": "upper", "type": "quantitative", "axis": {"values": [0, 5, 10, 15, 20], "title": "RMSSD (ms)", "titleFontSize": 18, "titlePadding": 4, "labelFontSize": 13, "labelPadding": 2, "tickSize": 5, "tickWidth": 1.5, "domainWidth": 2}}, "text": {"field": "sig"}}}
              ]
            },
            {
              "width": 130, "height": 159,
              "data": {"name": "hrv"},
              "transform": [{"filter": "datum.metric == 'HR'"}],
              "title": {"text": "E", "anchor": "start", "frame": "group", "dx": -45, "offset": 0, "fontSize": 17, "fontWeight": "normal"},
              "encoding": {"x": {"field": "group", "type": "nominal", "sort": ["Control", "DSP csKO"], "scale": {"paddingInner": 0.1587, "paddingOuter": 0.111, "align": 0.286},
                                 "axis": {"title": null, "labelAngle": 0, "labelFontSize": 15, "tickSize": 3, "tickWidth": 1.5, "domainWidth": 2, "labelPadding": 0}}},
              "layer": [
                {"mark": {"type": "rule", "color": "#000", "strokeWidth": 2},
                 "encoding": {"y": {"field": "mean", "type": "quantitative", "scale": {"domain": [0, 600], "nice": false},
                                    "axis": {"values": [0, 200, 400, 600], "title": "HR (BPM)", "titleFontSize": 18, "titlePadding": 4, "labelFontSize": 13, "labelPadding": 2, "tickSize": 5, "tickWidth": 1.5, "domainWidth": 2}},
                              "y2": {"field": "upper"}}},
                {"mark": {"type": "tick", "orient": "horizontal", "size": 32, "thickness": 2, "color": "#000", "opacity": 1},
                 "encoding": {"y": {"field": "upper", "type": "quantitative", "axis": {"values": [0, 200, 400, 600], "title": "HR (BPM)", "titleFontSize": 18, "titlePadding": 4, "labelFontSize": 13, "labelPadding": 2, "tickSize": 5, "tickWidth": 1.5, "domainWidth": 2}}}},
                {"mark": {"type": "bar", "stroke": "#000", "strokeWidth": 2, "opacity": 1},
                 "encoding": {"y": {"field": "mean", "type": "quantitative", "stack": null, "axis": {"values": [0, 200, 400, 600], "title": "HR (BPM)", "titleFontSize": 18, "titlePadding": 4, "labelFontSize": 13, "labelPadding": 2, "tickSize": 5, "tickWidth": 1.5, "domainWidth": 2}},
                              "fill": {"field": "group", "type": "nominal", "scale": {"domain": ["Control", "DSP csKO"], "range": ["#ffffff", "#000000"]}, "legend": null}}},
                {"mark": {"type": "text", "fontSize": 15, "baseline": "alphabetic", "dy": -5},
                 "encoding": {"y": {"field": "upper", "type": "quantitative", "axis": {"values": [0, 200, 400, 600], "title": "HR (BPM)", "titleFontSize": 18, "titlePadding": 4, "labelFontSize": 13, "labelPadding": 2, "tickSize": 5, "tickWidth": 1.5, "domainWidth": 2}}, "text": {"field": "sig"}}}
              ]
            }
          ],
          "spacing": 61,
          "bounds": "flush"
        }
      ],
      "spacing": 30,
      "bounds": "flush"
    }
  ],
  "spacing": 2,
  "bounds": "flush"
}
